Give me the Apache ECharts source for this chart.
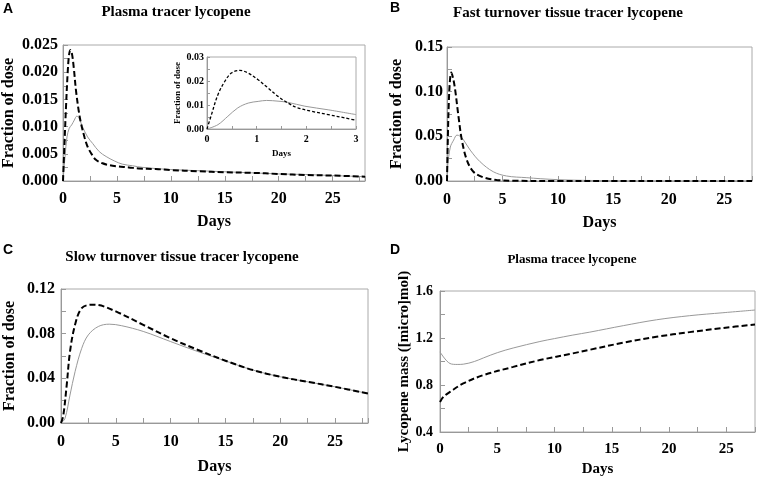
<!DOCTYPE html>
<html><head><meta charset="utf-8">
<script src="https://cdn.jsdelivr.net/npm/echarts@6/dist/echarts.min.js"></script>
<style>html,body{margin:0;padding:0;background:#fff}#c{width:758px;height:479px}</style>
</head><body><div id="c"></div>
<script>
// ---- Panel A: plasma tracer lycopene (fraction of dose vs days) ----
const aSolid = [[0,0],[0.19,0.0045],[0.37,0.0081],[0.58,0.0097],[0.8,0.0103],[1.05,0.0112],[1.27,0.0119],[1.45,0.0117],[1.8,0.0100],[2.28,0.0081],[2.75,0.0069],[3.36,0.0054],[4.0,0.0045],[4.75,0.0037],[5.5,0.0031],[6.45,0.0028],[7.4,0.0025],[10,0.0021],[12.5,0.0019],[15,0.0017],[17.5,0.0015],[20,0.0013],[22.5,0.0012],[25,0.0010],[28,0.0008]];
const aDashed = [[0,0],[0.14,0.007],[0.28,0.0137],[0.43,0.0198],[0.55,0.023],[0.68,0.0241],[0.82,0.0235],[1.0,0.0208],[1.2,0.0167],[1.45,0.013],[1.67,0.0106],[2.0,0.0080],[2.28,0.0063],[2.7,0.0048],[3.05,0.0039],[3.6,0.0033],[4.3,0.0029],[5,0.0027],[6.1,0.0025],[7,0.0023],[8.6,0.0022],[10,0.0020],[12.5,0.0018],[15,0.0016],[17.5,0.0015],[20,0.0013],[22.5,0.0011],[25,0.0010],[28,0.0008]];
// inset of panel A (0-3 days)
const insetSolid = [[0,0],[0.22,0.0018],[0.42,0.0053],[0.62,0.0088],[0.83,0.0108],[1.03,0.0115],[1.2,0.0119],[1.43,0.0116],[1.63,0.0111],[1.97,0.0095],[2.44,0.0080],[3.0,0.0060]];
const insetDashed = [[0,0],[0.09,0.006],[0.22,0.0143],[0.36,0.0199],[0.49,0.0233],[0.66,0.0244],[0.83,0.0233],[1.03,0.0205],[1.23,0.0171],[1.43,0.0136],[1.63,0.0108],[1.83,0.0088],[2.1,0.0074],[2.44,0.0060],[2.78,0.0046],[3.0,0.0036]];
// ---- Panel B: fast turnover tissue tracer lycopene ----
const bSolid = [[0,0],[0.06,0.016],[0.3,0.038],[0.6,0.0458],[0.9,0.0514],[1.2,0.050],[1.49,0.046],[2.09,0.0346],[2.98,0.0216],[4.17,0.0104],[5.37,0.0056],[7.2,0.0037],[8.4,0.0026],[10,0.0015],[12,0.0008],[15,0.0003],[20,0.0001],[27.5,0]];
const bDashed = [[0,0],[0.08,0.05],[0.15,0.083],[0.25,0.11],[0.38,0.1214],[0.55,0.115],[0.74,0.1016],[1.04,0.0718],[1.34,0.0458],[1.79,0.0235],[2.38,0.0104],[3.28,0.0041],[4.48,0.0011],[6,0.0003],[10,0],[15,0],[20,0],[25,0],[27.5,0]];
// ---- Panel C: slow turnover tissue tracer lycopene ----
const cSolid = [[0,0],[0.36,0.004],[0.82,0.025],[1.28,0.0459],[1.89,0.0669],[2.49,0.0789],[3.4,0.0864],[4.4,0.0885],[5.5,0.0872],[7.5,0.0820],[10,0.0729],[12.5,0.0639],[15,0.0556],[17.5,0.0474],[20,0.0414],[22.5,0.0369],[25,0.0324],[28,0.0264]];
const cDashed = [[0,0],[0.21,0.0069],[0.52,0.0339],[0.82,0.0639],[1.28,0.0879],[1.89,0.1029],[2.8,0.1059],[3.4,0.1056],[5,0.0999],[7.5,0.0879],[10,0.0759],[12.5,0.0654],[15,0.0558],[17.5,0.0474],[20,0.0414],[22.5,0.0369],[25,0.0324],[28,0.0264]];
// ---- Panel D: plasma tracee lycopene (micromol) ----
const dSolid = [[0,1.082],[0.87,0.983],[1.5,0.975],[2.03,0.977],[3.0,1.0],[3.78,1.03],[5,1.075],[6.39,1.115],[8.72,1.17],[10,1.195],[11.6,1.225],[13.08,1.25],[16,1.305],[18.9,1.355],[21.8,1.39],[24.7,1.415],[27.5,1.438]];
const dDashed = [[0,0.656],[0.3,0.70],[0.87,0.741],[2.03,0.813],[3.78,0.884],[6.39,0.954],[8.72,1.012],[11.6,1.069],[13.08,1.1],[16,1.16],[18.9,1.21],[21.8,1.25],[24.7,1.285],[27.5,1.315]];

const panelTitles = ['Plasma tracer lycopene','Fast turnover tissue tracer lycopene','Slow turnover tissue tracer lycopene','Plasma tracee lycopene'];
const panelLetters = ['A','B','C','D'];
const xName = 'Days';
const yNames = ['Fraction of dose','Fraction of dose','Fraction of dose','Lycopene mass ([micro]mol)'];

const SERIF = '"Liberation Serif","Times New Roman",serif';
function fmt(step, dec){ return v => (Math.abs(v/step - Math.round(v/step)) < 1e-6 ? v.toFixed(dec) : ''); }
function xAxis(gi, max, o){
  o = o || {};
  return {type:'value', gridIndex:gi, min:0, max:max, interval:o.interval||2.5,
    name:xName, nameLocation:'middle', nameGap:o.nameGap||34,
    nameTextStyle:{fontFamily:SERIF, fontWeight:'bold', fontSize:o.nameSize||16, color:'#000'},
    axisLine:{lineStyle:{color:'#999', width:1}},
    axisTick:{inside:true, length:o.tickLen||5, lineStyle:{color:'#999'}},
    axisLabel:{formatter:fmt(o.step||5, 0), fontFamily:SERIF, fontWeight:'bold', fontSize:o.labelSize||16, color:'#000', margin:o.margin||10, showMaxLabel:true},
    splitLine:{show:false}};
}
function yAxis(gi, min, max, interval, step, dec, o){
  o = o || {};
  return {type:'value', gridIndex:gi, min:min, max:max, interval:interval,
    name:o.name||'', nameLocation:'middle', nameGap:o.nameGap||46,
    nameTextStyle:{fontFamily:SERIF, fontWeight:'bold', fontSize:o.nameSize||16, color:'#000'},
    axisLine:{lineStyle:{color:'#999', width:1}},
    axisTick:{inside:true, length:o.tickLen||5, lineStyle:{color:'#999'}},
    axisLabel:{formatter:fmt(step, dec), fontFamily:SERIF, fontWeight:'bold', fontSize:o.labelSize||16, color:'#000', margin:o.margin||5},
    splitLine:{show:false}};
}
function line(xi, data, dashed, thin){
  return {type:'line', xAxisIndex:xi, yAxisIndex:xi, data:data, smooth:0.35, symbol:'none', z: dashed?3:2,
    lineStyle: dashed ? {color:'#000', width: thin?1.3:2, type: thin?[3,2]:[6,3]} : {color:'#999', width:1}};
}
const gridStyle = {show:true, borderColor:'#aaa', borderWidth:1, backgroundColor:'#fff'};
const option = {
  animation:false,
  grid:[
    Object.assign({left:62, top:45, width:303, height:136}, gridStyle),
    Object.assign({left:447, top:47, width:305, height:134}, gridStyle),
    Object.assign({left:61, top:289, width:307, height:134}, gridStyle),
    Object.assign({left:440, top:291, width:315, height:141}, gridStyle),
    Object.assign({left:207, top:57, width:149, height:72}, gridStyle)
  ],
  xAxis:[
    xAxis(0, 28, {nameGap:33}),
    xAxis(1, 27.5, {nameGap:34, margin:11}),
    xAxis(2, 28, {nameGap:36, margin:11}),
    xAxis(3, 27.5, {nameGap:30, labelSize:15, nameSize:15}),
    xAxis(4, 3, {interval:0.5, step:1, nameGap:20, labelSize:10, nameSize:9, margin:5, tickLen:3})
  ],
  yAxis:[
    yAxis(0, 0, 0.025, 0.0025, 0.005, 3, {name:yNames[0], nameGap:46}),
    yAxis(1, 0, 0.15, 0.025, 0.05, 2, {name:yNames[1], nameGap:42, margin:4}),
    yAxis(2, 0, 0.12, 0.02, 0.04, 2, {name:yNames[2], nameGap:43, margin:6}),
    yAxis(3, 0.4, 1.6, 0.2, 0.4, 1, {name:yNames[3], nameGap:27, margin:7, labelSize:14, nameSize:15}),
    yAxis(4, 0, 0.03, 0.005, 0.01, 2, {name:'Fraction of dose', nameGap:20, labelSize:10, nameSize:9, margin:3, tickLen:3})
  ],
  series:[
    line(0, aSolid, false), line(0, aDashed, true),
    line(1, bSolid, false), line(1, bDashed, true),
    line(2, cSolid, false), line(2, cDashed, true),
    line(3, dSolid, false), line(3, dDashed, true),
    line(4, insetSolid, false), line(4, insetDashed, true, true)
  ],
  graphic:[
    {type:'text', x:3, y:2, style:{text:panelLetters[0], font:'bold 14px "Liberation Sans",Arial,sans-serif', fill:'#000'}},
    {type:'text', x:390, y:1, style:{text:panelLetters[1], font:'bold 14px "Liberation Sans",Arial,sans-serif', fill:'#000'}},
    {type:'text', x:3, y:243, style:{text:panelLetters[2], font:'bold 14px "Liberation Sans",Arial,sans-serif', fill:'#000'}},
    {type:'text', x:390, y:243, style:{text:panelLetters[3], font:'bold 14px "Liberation Sans",Arial,sans-serif', fill:'#000'}},
    {type:'text', x:176, y:12, style:{text:panelTitles[0], font:'bold 15px '+SERIF, fill:'#000', align:'center', verticalAlign:'middle', textAlign:'center', textVerticalAlign:'middle'}},
    {type:'text', x:568, y:13, style:{text:panelTitles[1], font:'bold 15px '+SERIF, fill:'#000', align:'center', verticalAlign:'middle', textAlign:'center', textVerticalAlign:'middle'}},
    {type:'text', x:182, y:257, style:{text:panelTitles[2], font:'bold 15px '+SERIF, fill:'#000', align:'center', verticalAlign:'middle', textAlign:'center', textVerticalAlign:'middle'}},
    {type:'text', x:572, y:260, style:{text:panelTitles[3], font:'bold 13px '+SERIF, fill:'#000', align:'center', verticalAlign:'middle', textAlign:'center', textVerticalAlign:'middle'}}
  ]
};
const chart = echarts.init(document.getElementById('c'), null, {renderer:'canvas'});
chart.setOption(option);
</script></body></html>
